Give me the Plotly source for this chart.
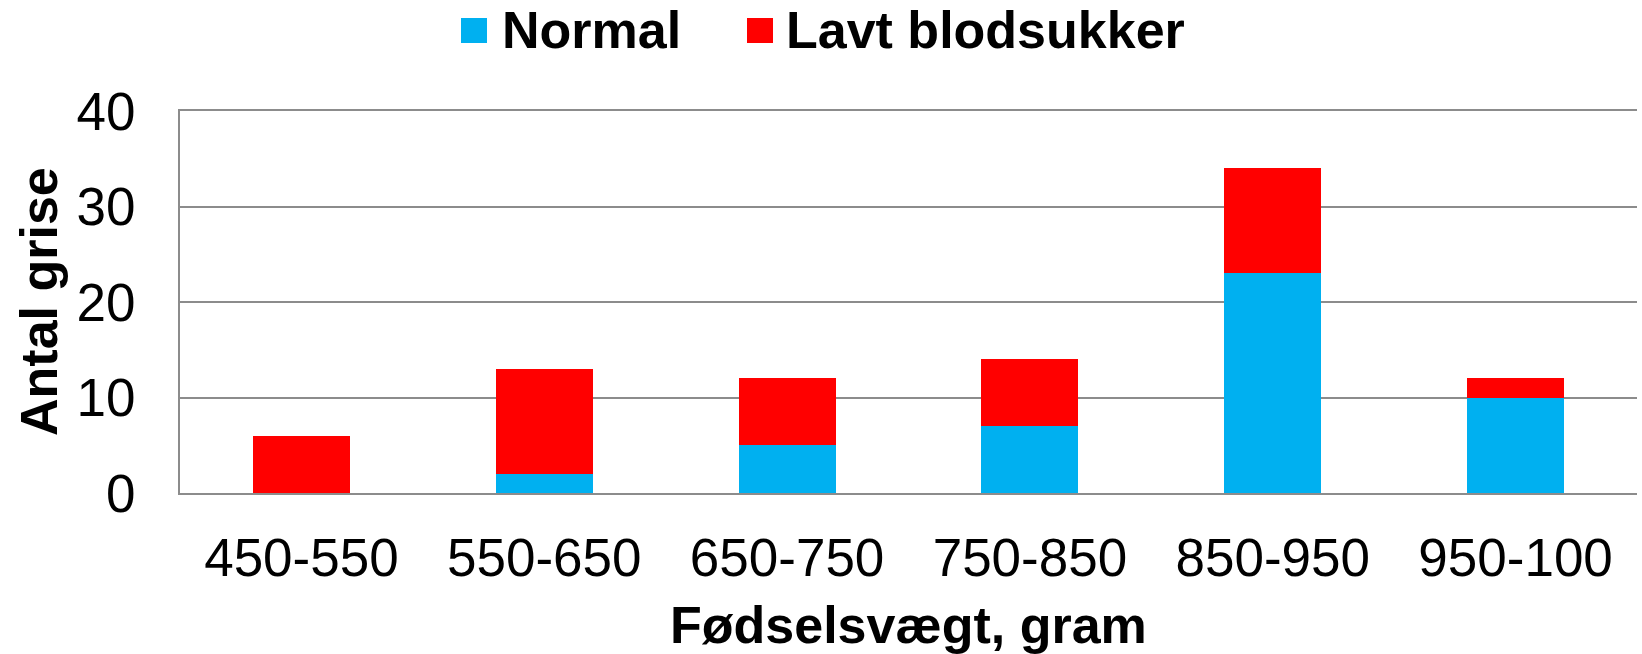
import plotly.graph_objects as go

categories = ["450-550", "550-650", "650-750", "750-850", "850-950", "950-100"]
normal = [0, 2, 5, 7, 23, 10]
lavt = [6, 11, 7, 7, 11, 2]
series_names = ["Normal", "Lavt blodsukker"]
colors = ["#00B0F0", "#FF0000"]
y_ticks = [0, 10, 20, 30, 40]
x_title = "Fødselsvægt, gram"
y_title = "Antal grise"

W, H = 1642, 654
L, R, T, B = 180, 5, 111, 161
PW, PH = W - L - R, H - T - B
FONT = "Liberation Sans, Arial, sans-serif"
GRID = "#8C8C8C"


def px_x(x):
    return (x - L) / PW


def px_y(y):
    return (H - B - y) / PH


fig = go.Figure()
for name, vals, col in zip(series_names, [normal, lavt], colors):
    fig.add_trace(go.Bar(x=categories, y=vals, name=name, marker_color=col,
                         marker_line_width=0, showlegend=False))

fig.update_layout(
    width=W, height=H, barmode="stack", bargap=0.6,
    margin=dict(l=L, r=R, t=T, b=B, pad=0, autoexpand=False),
    paper_bgcolor="white", plot_bgcolor="white",
    font=dict(family=FONT, color="black"),
    xaxis=dict(showline=True, linecolor=GRID, linewidth=2, showgrid=False,
               tickfont=dict(size=53), ticks="", ticklabelstandoff=17,
               automargin=False, mirror=True),
    yaxis=dict(range=[0, 40], tickvals=y_ticks, showgrid=True, gridcolor=GRID, gridwidth=2,
               showline=True, linecolor=GRID, linewidth=2, zeroline=False,
               tickfont=dict(size=53), ticks="", ticklabelstandoff=32,
               automargin=False),
)

# axis titles
fig.add_annotation(xref="paper", yref="paper", x=px_x((L + W - R) / 2), y=px_y(625),
                   xanchor="center", yanchor="middle", showarrow=False,
                   text="<b>" + x_title + "</b>", font=dict(size=52, family=FONT, color="black"))
fig.add_annotation(xref="paper", yref="paper", x=px_x(39), y=0.5, textangle=-90,
                   xanchor="center", yanchor="middle", showarrow=False,
                   text="<b>" + y_title + "</b>", font=dict(size=52, family=FONT, color="black"))

# custom legend (large square markers like the original)
legend_x = [461, 747]
text_x = [500, 784]
for i, (name, col) in enumerate(zip(series_names, colors)):
    fig.add_shape(type="rect", xref="paper", yref="paper",
                  x0=px_x(legend_x[i]), x1=px_x(legend_x[i] + 26),
                  y0=px_y(43), y1=px_y(18),
                  fillcolor=col, line_width=0)
    fig.add_annotation(xref="paper", yref="paper", x=px_x(text_x[i]),
                       y=px_y(30), xanchor="left", yanchor="middle",
                       text="<b>" + name + "</b>", showarrow=False,
                       font=dict(size=52, family=FONT, color="black"))

fig.write_html("out.html", config={"displayModeBar": False},
               post_script="document.body.style.margin='0px';document.body.style.overflow='hidden';")
